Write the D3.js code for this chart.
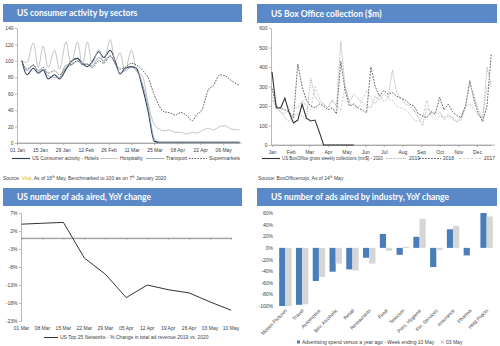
<!DOCTYPE html>
<html>
<head>
<meta charset="utf-8">
<title>US consumer activity</title>
<script src="https://d3js.org/d3.v7.min.js"></script>
<style>
  body { margin: 0; background: #fff; }
  svg text { font-family: "Liberation Sans", Arial, sans-serif; }
  .axis text { font-size: 5px; fill: #404040; }
  .axis path, .axis line { stroke: #8c8c8c; stroke-width: 0.6; }
  .title { font-family: Lato, "Open Sans", sans-serif; font-weight: 700; font-size: 8.5px; fill: #fff; }
  .small { font-size: 5px; fill: #404040; }
</style>
</head>
<body>
<svg id="chart" width="500" height="346"></svg>
<script>
// ---- consumer activity (Visa), index, day offset from 01 Jan ----
var days1 = [3,6,10,13,16,19,23,26,30,33,37,40,43,46,50,53,57,60,63,66,70,73,77,80,84,87,90,93,97,100,104,107,110,113,117,120,124,127,131,136];
var hotels = [100,83,91,85,89,78,83,78,90,99,103,97,93,99,111,104,113,100,84,91,93,91,65,40,2,1,1,1,1,1,1,1,1,1,1,1,1,1,1,1];
var hospitality = [100,98,122,92,118,92,113,90,123,95,123,95,123,97,114,98,126,100,110,88,113,88,80,50,22,17,15,16,13,13,11,13,12,15,18,16,20,21,17,16];
var transport = [100,88,95,86,90,82,80,80,95,95,100,97,96,94,104,100,106,96,85,88,92,88,70,45,5,1,1,1,1,1,1,1,1,1,1,1,1,1,1,1];
var supermarkets = [100,90,95,88,92,85,88,83,92,95,100,95,96,92,100,97,106,97,90,92,97,95,88,80,58,45,38,37,34,37,33,27,35,40,65,70,83,82,76,70];
var tickDays1 = [0,14,28,42,56,70,84,98,112,126];
var tickLabels1 = ["01 Jan","15 Jan","29 Jan","12 Feb","26 Feb","11 Mar","25 Mar","08 Apr","22 Apr","06 May"];
var yTicks1 = [0,20,40,60,80,100,120,140];

// ---- box office weekly gross ($m), week index ----
var box2020 = [375,190,190,240,165,113,128,210,138,123,128,67,0,0,0,0,0,0,0,0];
var box2019 = [230,200,170,140,120,150,160,150,130,343,250,220,210,190,230,200,530,300,220,260,240,220,200,190,250,230,260,240,385,270,240,210,200,180,140,100,190,170,150,170,130,150,140,120,130,190,318,250,180,130,400,300];
var box2018 = [290,200,190,180,170,140,415,300,230,200,190,210,200,180,190,160,430,280,200,210,190,180,165,400,300,250,280,260,270,250,240,230,210,200,160,150,140,170,160,245,180,210,170,150,140,200,330,230,160,120,200,470];
var box2017 = [250,190,170,160,180,200,190,230,200,180,300,240,210,190,230,200,180,300,220,200,190,230,280,240,210,260,220,240,230,200,190,180,160,130,120,140,230,150,130,150,140,160,130,120,150,200,210,180,150,140,300,330];
var months = ["Jan","Feb","Mar","Apr","May","Jun","Jul","Aug","Sep","Oct","Nov","Dec"];
var yTicks2 = [0,100,200,300,400,500,600];

// ---- ads aired, YoY % ----
var weeks3 = ["01 Mar","08 Mar","15 Mar","22 Mar","29 Mar","05 Apr","12 Apr","19 Apr","26 Apr","03 May","10 May"];
var adsChange = [3.9,4.15,4.4,-5.5,-10,-16.5,-13,-14.3,-15.2,-17.7,-20];
var yTicks3 = [7,2,-3,-8,-13,-18,-23];

// ---- ads by industry, YoY % ----
var industries = ["Motion Pictures","Travel","Automotive","Bev. Alcoholic","Retail","Restaurants","Food","Telecom","Pers. Hygiene","Fin. Services","Insurance","Pharma","Hhld Prdcts"];
var may10 = [-100,-98,-57,-41,-37,-17,24,-12,19,-33,32,-13,60];
var may03 = [-100,-97,-50,-27,-39,-27,-5,2,50,-4,38,0,54];
var yTicks4 = [60,40,20,0,-20,-40,-60,-80,-100];

var svg = d3.select("#chart");
var headerFill = "#5b89c8";

function header(x, y, w, h, label) {
  svg.append("rect").attr("x", x).attr("y", y).attr("width", w).attr("height", h).attr("fill", headerFill);
  svg.append("text").attr("class", "title").attr("x", x + 14).attr("y", y + h / 2 + 3).text(label);
}

function legendLine(g, x, y, len, color, dash, width) {
  g.append("line").attr("x1", x).attr("x2", x + len).attr("y1", y).attr("y2", y)
    .attr("stroke", color).attr("stroke-width", width || 0.8).attr("stroke-dasharray", dash || null);
}

// ================= panel 1 =================
header(3, 4, 239, 18, "US consumer activity by sectors");

var x1 = d3.scaleLinear().domain([0, 136]).range([17, 239.5]);
var y1 = d3.scaleLinear().domain([0, 140]).range([143, 28]);

svg.append("g").attr("class", "axis").attr("transform", "translate(17,0)")
  .call(d3.axisLeft(y1).tickValues(yTicks1).tickSize(2).tickSizeOuter(0).tickPadding(1.5));
svg.append("g").attr("class", "axis").attr("transform", "translate(0,143)")
  .call(d3.axisBottom(x1).tickValues(tickDays1).tickFormat(function(d, i) { return tickLabels1[i]; })
    .tickSize(2).tickSizeOuter(0).tickPadding(3));
svg.append("line").attr("x1", 17).attr("x2", 242).attr("y1", 143).attr("y2", 143).attr("stroke", "#8c8c8c").attr("stroke-width", 0.6);

var series1 = [
  {name: "US Consumer activity - Hotels", values: hotels, color: "#2e3b55", width: 1.1, dash: null},
  {name: "Hospitality", values: hospitality, color: "#b5b5b5", width: 0.8, dash: null},
  {name: "Transport", values: transport, color: "#8796ae", width: 0.8, dash: null},
  {name: "Supermarkets", values: supermarkets, color: "#3a3a3a", width: 0.8, dash: "1.6,1.2"}
];
var line1 = d3.line().x(function(d, i) { return x1(days1[i]); }).y(function(d) { return y1(d); }).curve(d3.curveMonotoneX);
svg.append("g").selectAll("path").data(series1).enter().append("path")
  .attr("d", function(s) { return line1(s.values); })
  .attr("fill", "none").attr("stroke", function(s) { return s.color; })
  .attr("stroke-width", function(s) { return s.width; })
  .attr("stroke-dasharray", function(s) { return s.dash; });

var leg1 = svg.append("g");
var leg1x = [12, 100, 146, 189];
series1.forEach(function(s, i) {
  legendLine(leg1, leg1x[i], 158.5, 18, s.color, s.dash, s.width);
  leg1.append("text").attr("class", "small").attr("x", leg1x[i] + 20).attr("y", 160.2).text(s.name);
});

var src1 = svg.append("text").attr("class", "small").attr("x", 3).attr("y", 179.5);
src1.append("tspan").text("Source: ");
src1.append("tspan").attr("fill", "#e6b800").text("Visa");
src1.append("tspan").text(", As of 16");
src1.append("tspan").attr("font-size", "3.2px").attr("dy", -1.6).text("th");
src1.append("tspan").attr("dy", 1.6).text(" May, Benchmarked to 100 as on 7");
src1.append("tspan").attr("font-size", "3.2px").attr("dy", -1.6).text("th");
src1.append("tspan").attr("dy", 1.6).text(" January 2020");

// ================= panel 2 =================
header(257, 4, 240, 19, "US Box Office collection ($m)");

var x2 = d3.scaleLinear().domain([0, 51]).range([272, 491.3]);
var y2 = d3.scaleLinear().domain([0, 600]).range([145, 28]);

svg.append("g").attr("class", "axis").attr("transform", "translate(271,0)")
  .call(d3.axisLeft(y2).tickValues(yTicks2).tickSize(2).tickSizeOuter(0).tickPadding(1.5));
svg.append("g").attr("class", "axis").attr("transform", "translate(0,145)")
  .call(d3.axisBottom(x2).tickValues(months.map(function(m, i) { return i * 52 / 12; }))
    .tickFormat(function(d, i) { return months[i]; }).tickSize(2).tickSizeOuter(0).tickPadding(3));
svg.append("line").attr("x1", 271).attr("x2", 495).attr("y1", 145).attr("y2", 145).attr("stroke", "#8c8c8c").attr("stroke-width", 0.6);

var series2 = [
  {name: "US BoxOffice gross weekly collections (mn$) - 2020", values: box2020, color: "#333333", width: 1.1, dash: null},
  {name: "2019", values: box2019, color: "#a6a6a6", width: 0.8, dash: "1.4,1"},
  {name: "2018", values: box2018, color: "#404040", width: 0.8, dash: "1.8,1.2"},
  {name: "2017", values: box2017, color: "#c4c4c4", width: 0.8, dash: "2.6,1.4"}
];
var line2 = d3.line().x(function(d, i) { return x2(i); }).y(function(d) { return y2(d); });
// older years first so 2020 sits on top
svg.append("g").selectAll("path").data(series2.slice().reverse()).enter().append("path")
  .attr("d", function(s) { return line2(s.values); })
  .attr("fill", "none").attr("stroke", function(s) { return s.color; })
  .attr("stroke-width", function(s) { return s.width; })
  .attr("stroke-dasharray", function(s) { return s.dash; });

// legend: line start, line length, text start
var leg2 = svg.append("g");
var leg2pos = [[262, 18, 282], [386, 20, 409], [419, 22, 443], [459, 22, 484]];
series2.forEach(function(s, i) {
  var p = leg2pos[i];
  legendLine(leg2, p[0], 158.5, p[1], s.color, s.dash, s.width);
  var t = leg2.append("text").attr("class", "small").attr("x", p[2]).attr("y", 160.2).text(s.name);
  if (i === 0) t.attr("textLength", 101).attr("lengthAdjust", "spacingAndGlyphs");
});

var src2 = svg.append("text").attr("class", "small").attr("x", 258).attr("y", 179.5);
src2.append("tspan").text("Source: BoxOfficemojo, As of 14");
src2.append("tspan").attr("font-size", "3.2px").attr("dy", -1.6).text("th");
src2.append("tspan").attr("dy", 1.6).text(" May");

// ================= panel 3 =================
header(3, 188, 239, 18, "US number of ads aired, YoY change");

var x3 = d3.scalePoint().domain(weeks3).range([21.5, 231]);
var y3 = d3.scaleLinear().domain([-23, 7]).range([321, 213]);

svg.append("g").attr("class", "axis").attr("transform", "translate(21,0)")
  .call(d3.axisLeft(y3).tickValues(yTicks3).tickFormat(function(d) { return d + "%"; })
    .tickSize(2).tickSizeOuter(0).tickPadding(1.5));
svg.append("g").attr("class", "axis").attr("transform", "translate(0," + y3(0) + ")")
  .call(d3.axisBottom(x3).tickFormat("").tickSize(1.5).tickSizeOuter(0));
svg.append("line").attr("x1", 21).attr("x2", 232).attr("y1", y3(0)).attr("y2", y3(0)).attr("stroke", "#7f7f7f").attr("stroke-width", 0.7);
svg.append("g").selectAll("text").data(weeks3).enter().append("text")
  .attr("class", "small").attr("text-anchor", "middle")
  .attr("x", function(d) { return x3(d); }).attr("y", 330).text(function(d) { return d; });

var line3 = d3.line().x(function(d, i) { return x3(weeks3[i]); }).y(function(d) { return y3(d); });
svg.append("path").attr("d", line3(adsChange)).attr("fill", "none").attr("stroke", "#333").attr("stroke-width", 1);

var leg3 = svg.append("g");
legendLine(leg3, 44, 337.5, 14, "#333", null, 1);
leg3.append("text").attr("class", "small").attr("x", 60).attr("y", 339.2)
  .text("US Top 25 Networks - % Change in total ad revenue 2019 vs. 2020");

// ================= panel 4 =================
header(257, 188, 240, 18, "US number of ads aired by industry, YoY change");

var x4 = d3.scaleBand().domain(industries).range([277, 495]).paddingInner(0.26).paddingOuter(0.13);
var x4s = d3.scaleBand().domain(["may10", "may03"]).range([0, x4.bandwidth()]);
var y4 = d3.scaleLinear().domain([-100, 60]).range([306, 213]);

var yAx4 = svg.append("g").attr("class", "axis").attr("transform", "translate(276,0)")
  .call(d3.axisLeft(y4).tickValues(yTicks4).tickFormat(function(d) { return d + "%"; })
    .tickSize(0).tickPadding(3));
yAx4.select(".domain").remove();

var groups = svg.append("g").selectAll("g").data(industries).enter().append("g")
  .attr("transform", function(d) { return "translate(" + x4(d) + ",0)"; });
groups.append("rect")
  .attr("x", x4s("may10")).attr("width", x4s.bandwidth())
  .attr("y", function(d, i) { return y4(Math.max(0, may10[i])); })
  .attr("height", function(d, i) { return Math.abs(y4(may10[i]) - y4(0)); })
  .attr("fill", "#4a7ebb");
groups.append("rect")
  .attr("x", x4s("may03")).attr("width", x4s.bandwidth())
  .attr("y", function(d, i) { return y4(Math.max(0, may03[i])); })
  .attr("height", function(d, i) { return Math.abs(y4(may03[i]) - y4(0)); })
  .attr("fill", "#d6d6d6");

svg.append("g").selectAll("text").data(industries).enter().append("text")
  .attr("class", "small").attr("text-anchor", "end")
  .attr("transform", function(d) { return "translate(" + (x4(d) + x4.bandwidth() / 2 + 2) + ",311) rotate(-45)"; })
  .text(function(d) { return d; });

var leg4 = svg.append("g");
leg4.append("rect").attr("x", 297).attr("y", 340.5).attr("width", 3).attr("height", 3).attr("fill", "#4a7ebb");
leg4.append("text").attr("class", "small").attr("x", 302).attr("y", 343.5).text("Advertising spend versus a year ago - Week ending 10 May");
leg4.append("rect").attr("x", 441).attr("y", 340.5).attr("width", 3).attr("height", 3).attr("fill", "#d6d6d6");
leg4.append("text").attr("class", "small").attr("x", 446).attr("y", 343.5).text("03 May");
</script>
</body>
</html>
